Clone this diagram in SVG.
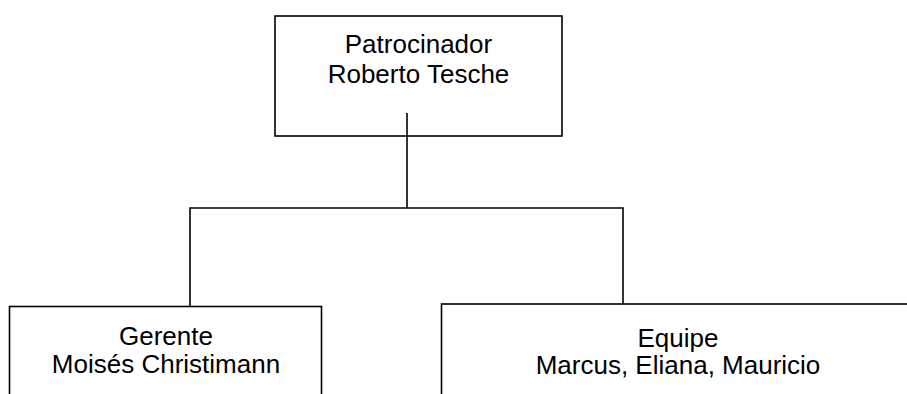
<svg xmlns="http://www.w3.org/2000/svg" width="907" height="394" viewBox="0 0 907 394">
  <style>
    .box { fill: #ffffff; stroke: #000000; stroke-width: 1.6; }
    .wire { fill: none; stroke: #000000; stroke-width: 1.6; }
    .label { font-family: "Liberation Sans", Arial, sans-serif; font-size: 26px; fill: #000000; text-anchor: middle; }
  </style>
  <rect width="907" height="394" fill="#ffffff"/>

  <g id="sponsor">
    <rect class="box" x="275" y="16" width="287" height="120"/>
    <text class="label" x="418.5" y="53">Patrocinador</text>
    <text class="label" x="418.5" y="83">Roberto Tesche</text>
  </g>

  <g id="manager">
    <rect class="box" x="9.5" y="306.5" width="312" height="100"/>
    <text class="label" x="166" y="345">Gerente</text>
    <text class="label" x="166" y="373">Moisés Christimann</text>
  </g>

  <g id="team">
    <rect class="box" x="441.5" y="304" width="473" height="100"/>
    <text class="label" x="678" y="346.5">Equipe</text>
    <text class="label" x="678" y="374">Marcus, Eliana, Mauricio</text>
  </g>

  <g id="connectors">
    <path class="wire" d="M407,113 V208"/>
    <path class="wire" d="M190,306.5 V208 H623 V304"/>
  </g>
</svg>
